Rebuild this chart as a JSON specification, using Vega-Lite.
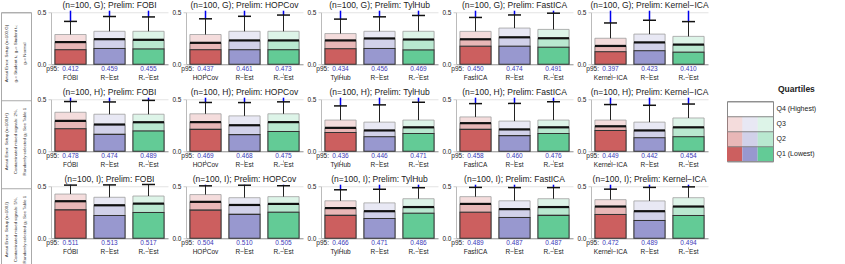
{
  "$schema": "https://vega.github.io/schema/vega-lite/v6.json",
  "padding": 0,
  "config": {"font": "Liberation Sans", "view": {"stroke": null}},
  "hconcat": [
    {
      "spacing": 4,
      "hconcat": [
        {
          "width": 30,
          "height": 264,
          "data": {"values": [
            {"s": "G", "lab": "Amari Error: Setup (n=100,G)\ng₁= Student t₁; g₂= Student t₂;\ng₃= Normal"},
            {"s": "H", "lab": "Amari Error: Setup (n=100,H)\nContaminated mixed signals: 2%,\nRandomly selected gⱼ: See Table 1"},
            {"s": "I", "lab": "Amari Error: Setup (n=100,I)\nContaminated mixed signals: 5%,\nRandomly selected gⱼ: See Table 1"}
          ]},
          "mark": {"type": "text", "angle": 270, "lineBreak": "\n", "fontSize": 4.4, "lineHeight": 9.3, "dy": -9.3, "color": "#333", "align": "center", "baseline": "middle"},
          "encoding": {
            "y": {"field": "s", "type": "nominal", "bandPosition": 0.47, "scale": {"paddingInner": 0, "paddingOuter": 0},
                  "axis": {"title": null, "labels": false, "ticks": false, "domain": false, "grid": true, "tickBand": "extent", "gridColor": "#aaa"}},
            "text": {"field": "lab"}
          },
          "view": {"stroke": "#aaa"}
        },
        {
          "data": {"values": [
            {"t":"(n=100, G);  Prelim: FOBI","pi":0,"m":"FOBI","k":0,"q1":0.140,"md":0.213,"q3":0.286,"p95":0.412,"mx":0.515},
            {"t":"(n=100, G);  Prelim: FOBI","pi":0,"m":"R−Est","k":1,"q1":0.152,"md":0.241,"q3":0.317,"p95":0.459,"mx":0.515},
            {"t":"(n=100, G);  Prelim: FOBI","pi":0,"m":"R₊−Est","k":2,"q1":0.146,"md":0.235,"q3":0.317,"p95":0.455,"mx":0.515},
            {"t":"(n=100, G);  Prelim: HOPCov","pi":1,"m":"HOPCov","k":0,"q1":0.140,"md":0.206,"q3":0.286,"p95":0.437,"mx":0.515},
            {"t":"(n=100, G);  Prelim: HOPCov","pi":1,"m":"R−Est","k":1,"q1":0.140,"md":0.229,"q3":0.317,"p95":0.461,"mx":0.515},
            {"t":"(n=100, G);  Prelim: HOPCov","pi":1,"m":"R₊−Est","k":2,"q1":0.140,"md":0.229,"q3":0.317,"p95":0.473,"mx":0.515},
            {"t":"(n=100, G);  Prelim: TylHub","pi":2,"m":"TylHub","k":0,"q1":0.149,"md":0.229,"q3":0.295,"p95":0.434,"mx":0.515},
            {"t":"(n=100, G);  Prelim: TylHub","pi":2,"m":"R−Est","k":1,"q1":0.152,"md":0.248,"q3":0.317,"p95":0.456,"mx":0.515},
            {"t":"(n=100, G);  Prelim: TylHub","pi":2,"m":"R₊−Est","k":2,"q1":0.137,"md":0.238,"q3":0.317,"p95":0.469,"mx":0.515},
            {"t":"(n=100, G);  Prelim: FastICA","pi":3,"m":"FastICA","k":0,"q1":0.173,"md":0.240,"q3":0.316,"p95":0.450,"mx":0.515},
            {"t":"(n=100, G);  Prelim: FastICA","pi":3,"m":"R−Est","k":1,"q1":0.173,"md":0.259,"q3":0.348,"p95":0.474,"mx":0.515},
            {"t":"(n=100, G);  Prelim: FastICA","pi":3,"m":"R₊−Est","k":2,"q1":0.163,"md":0.250,"q3":0.335,"p95":0.491,"mx":0.515},
            {"t":"(n=100, G);  Prelim: Kernel−ICA","pi":4,"m":"Kernel−ICA","k":0,"q1":0.120,"md":0.176,"q3":0.250,"p95":0.397,"mx":0.515},
            {"t":"(n=100, G);  Prelim: Kernel−ICA","pi":4,"m":"R−Est","k":1,"q1":0.130,"md":0.210,"q3":0.290,"p95":0.423,"mx":0.515},
            {"t":"(n=100, G);  Prelim: Kernel−ICA","pi":4,"m":"R₊−Est","k":2,"q1":0.116,"md":0.189,"q3":0.268,"p95":0.410,"mx":0.515},
            {"t":"(n=100, H);  Prelim: FOBI","pi":5,"m":"FOBI","k":0,"q1":0.216,"md":0.292,"q3":0.375,"p95":0.478,"mx":0.515},
            {"t":"(n=100, H);  Prelim: FOBI","pi":5,"m":"R−Est","k":1,"q1":0.162,"md":0.257,"q3":0.356,"p95":0.474,"mx":0.515},
            {"t":"(n=100, H);  Prelim: FOBI","pi":5,"m":"R₊−Est","k":2,"q1":0.194,"md":0.279,"q3":0.356,"p95":0.489,"mx":0.515},
            {"t":"(n=100, H);  Prelim: HOPCov","pi":6,"m":"HOPCov","k":0,"q1":0.210,"md":0.280,"q3":0.360,"p95":0.469,"mx":0.515},
            {"t":"(n=100, H);  Prelim: HOPCov","pi":6,"m":"R−Est","k":1,"q1":0.160,"md":0.250,"q3":0.340,"p95":0.468,"mx":0.515},
            {"t":"(n=100, H);  Prelim: HOPCov","pi":6,"m":"R₊−Est","k":2,"q1":0.190,"md":0.280,"q3":0.360,"p95":0.475,"mx":0.515},
            {"t":"(n=100, H);  Prelim: TylHub","pi":7,"m":"TylHub","k":0,"q1":0.180,"md":0.225,"q3":0.300,"p95":0.436,"mx":0.515},
            {"t":"(n=100, H);  Prelim: TylHub","pi":7,"m":"R−Est","k":1,"q1":0.140,"md":0.200,"q3":0.280,"p95":0.446,"mx":0.515},
            {"t":"(n=100, H);  Prelim: TylHub","pi":7,"m":"R₊−Est","k":2,"q1":0.170,"md":0.230,"q3":0.300,"p95":0.471,"mx":0.515},
            {"t":"(n=100, H);  Prelim: FastICA","pi":8,"m":"FastICA","k":0,"q1":0.210,"md":0.270,"q3":0.330,"p95":0.458,"mx":0.515},
            {"t":"(n=100, H);  Prelim: FastICA","pi":8,"m":"R−Est","k":1,"q1":0.150,"md":0.210,"q3":0.290,"p95":0.460,"mx":0.515},
            {"t":"(n=100, H);  Prelim: FastICA","pi":8,"m":"R₊−Est","k":2,"q1":0.170,"md":0.230,"q3":0.300,"p95":0.476,"mx":0.515},
            {"t":"(n=100, H);  Prelim: Kernel−ICA","pi":9,"m":"Kernel−ICA","k":0,"q1":0.200,"md":0.240,"q3":0.300,"p95":0.449,"mx":0.515},
            {"t":"(n=100, H);  Prelim: Kernel−ICA","pi":9,"m":"R−Est","k":1,"q1":0.130,"md":0.200,"q3":0.280,"p95":0.442,"mx":0.515},
            {"t":"(n=100, H);  Prelim: Kernel−ICA","pi":9,"m":"R₊−Est","k":2,"q1":0.140,"md":0.230,"q3":0.320,"p95":0.454,"mx":0.515},
            {"t":"(n=100, I);  Prelim: FOBI","pi":10,"m":"FOBI","k":0,"q1":0.273,"md":0.356,"q3":0.425,"p95":0.511,"mx":0.515},
            {"t":"(n=100, I);  Prelim: FOBI","pi":10,"m":"R−Est","k":1,"q1":0.219,"md":0.317,"q3":0.394,"p95":0.513,"mx":0.515},
            {"t":"(n=100, I);  Prelim: FOBI","pi":10,"m":"R₊−Est","k":2,"q1":0.248,"md":0.333,"q3":0.406,"p95":0.517,"mx":0.517},
            {"t":"(n=100, I);  Prelim: HOPCov","pi":11,"m":"HOPCov","k":0,"q1":0.270,"md":0.350,"q3":0.420,"p95":0.504,"mx":0.515},
            {"t":"(n=100, I);  Prelim: HOPCov","pi":11,"m":"R−Est","k":1,"q1":0.230,"md":0.320,"q3":0.390,"p95":0.510,"mx":0.515},
            {"t":"(n=100, I);  Prelim: HOPCov","pi":11,"m":"R₊−Est","k":2,"q1":0.250,"md":0.330,"q3":0.400,"p95":0.505,"mx":0.515},
            {"t":"(n=100, I);  Prelim: TylHub","pi":12,"m":"TylHub","k":0,"q1":0.220,"md":0.290,"q3":0.360,"p95":0.466,"mx":0.515},
            {"t":"(n=100, I);  Prelim: TylHub","pi":12,"m":"R−Est","k":1,"q1":0.190,"md":0.260,"q3":0.340,"p95":0.471,"mx":0.515},
            {"t":"(n=100, I);  Prelim: TylHub","pi":12,"m":"R₊−Est","k":2,"q1":0.240,"md":0.300,"q3":0.380,"p95":0.486,"mx":0.515},
            {"t":"(n=100, I);  Prelim: FastICA","pi":13,"m":"FastICA","k":0,"q1":0.250,"md":0.330,"q3":0.400,"p95":0.489,"mx":0.515},
            {"t":"(n=100, I);  Prelim: FastICA","pi":13,"m":"R−Est","k":1,"q1":0.200,"md":0.280,"q3":0.360,"p95":0.487,"mx":0.515},
            {"t":"(n=100, I);  Prelim: FastICA","pi":13,"m":"R₊−Est","k":2,"q1":0.220,"md":0.300,"q3":0.380,"p95":0.487,"mx":0.515},
            {"t":"(n=100, I);  Prelim: Kernel−ICA","pi":14,"m":"Kernel−ICA","k":0,"q1":0.229,"md":0.305,"q3":0.371,"p95":0.472,"mx":0.515},
            {"t":"(n=100, I);  Prelim: Kernel−ICA","pi":14,"m":"R−Est","k":1,"q1":0.171,"md":0.260,"q3":0.359,"p95":0.489,"mx":0.515},
            {"t":"(n=100, I);  Prelim: Kernel−ICA","pi":14,"m":"R₊−Est","k":2,"q1":0.219,"md":0.305,"q3":0.390,"p95":0.494,"mx":0.515}
          ]},
          "facet": {"field": "t", "type": "nominal", "sort": {"field": "pi", "op": "min"},
                    "header": {"title": null, "labelFontSize": 8.5, "labelPadding": 0, "labelColor": "#222", "labelFont": "Liberation Sans"}},
          "columns": 5,
          "spacing": {"row": 6, "column": 3},
          "resolve": {"scale": {"x": "independent"}, "axis": {"x": "independent", "y": "independent"}},
          "spec": {
            "width": 117,
            "height": 52,
            "encoding": {
              "x": {"field": "m", "type": "nominal", "sort": {"field": "k", "op": "min"},
                    "scale": {"paddingInner": 0.2, "paddingOuter": 0.1},
                    "axis": {"title": null, "labelAngle": 0, "labelFontSize": 6.5, "labelPadding": 10, "ticks": false, "domainColor": "#999", "labelColor": "#222"}}
            },
            "layer": [
              {
                "mark": {"type": "bar", "fillOpacity": 0.22, "stroke": "#a0a0a0", "strokeWidth": 0.8},
                "encoding": {
                  "y": {"field": "md", "type": "quantitative", "title": null, "scale": {"domain": [0, 0.5], "nice": false},
                        "axis": {"values": [0, 0.1, 0.2, 0.3, 0.4, 0.5], "format": ".1f", "labelFontSize": 6.5, "labelPadding": 2, "tickSize": 3, "tickColor": "#ccc", "domainColor": "#bbb", "gridColor": "#e3e3e3", "labelColor": "#222"}},
                  "y2": {"field": "q3"},
                  "color": {"field": "k", "type": "nominal", "scale": {"domain": [0, 1, 2], "range": ["#cc5f5f", "#9898cf", "#63cb96"]}, "legend": null}
                }
              },
              {
                "mark": {"type": "bar", "fillOpacity": 0.45, "stroke": "#555", "strokeWidth": 0.8},
                "encoding": {
                  "y": {"field": "q1", "type": "quantitative", "title": null},
                  "y2": {"field": "md"},
                  "color": {"field": "k", "type": "nominal", "legend": null}
                }
              },
              {
                "mark": {"type": "bar", "fillOpacity": 1, "stroke": "#333", "strokeWidth": 1.1},
                "encoding": {
                  "y": {"field": "q1", "type": "quantitative", "title": null},
                  "color": {"field": "k", "type": "nominal", "legend": null}
                }
              },
              {
                "mark": {"type": "tick", "color": "#111", "thickness": 2.2, "size": 31, "opacity": 1},
                "encoding": {"y": {"field": "md", "type": "quantitative", "title": null}}
              },
              {
                "mark": {"type": "rule", "color": "#222", "strokeWidth": 1},
                "encoding": {"y": {"field": "q3", "type": "quantitative", "title": null}, "y2": {"field": "p95"}}
              },
              {
                "mark": {"type": "rule", "color": "#0000ee", "strokeWidth": 1.5},
                "encoding": {"y": {"field": "p95", "type": "quantitative", "title": null}, "y2": {"field": "mx"}}
              },
              {
                "mark": {"type": "tick", "color": "#111", "thickness": 1.5, "size": 13, "opacity": 1},
                "encoding": {"y": {"field": "p95", "type": "quantitative", "title": null}}
              },
              {
                "mark": {"type": "rule", "color": "#999", "strokeWidth": 0.8},
                "encoding": {"y": {"datum": -0.088, "type": "quantitative"}, "y2": {"datum": -0.108}}
              },
              {
                "mark": {"type": "text", "fontSize": 6.5, "color": "#3a3ab8", "baseline": "middle"},
                "encoding": {
                  "y": {"datum": -0.05, "type": "quantitative"},
                  "text": {"field": "p95", "type": "quantitative", "format": ".3f"}
                }
              },
              {
                "transform": [{"filter": "datum.k == 0"}],
                "mark": {"type": "text", "fontSize": 6.5, "color": "#222", "baseline": "middle", "align": "right", "dx": -11.5, "text": "p95:"},
                "encoding": {"y": {"datum": -0.05, "type": "quantitative"}}
              }
            ]
          }
        }
      ]
    },
    {
      "width": 46,
      "height": 60,
      "title": {"text": "Quartiles", "anchor": "start", "dx": 51, "fontSize": 8.5, "fontWeight": "bold", "offset": 4, "color": "#222"},
      "data": {"values": [
        {"k": 0, "q": "Q4 (Highest)"}, {"k": 1, "q": "Q4 (Highest)"}, {"k": 2, "q": "Q4 (Highest)"},
        {"k": 0, "q": "Q3"}, {"k": 1, "q": "Q3"}, {"k": 2, "q": "Q3"},
        {"k": 0, "q": "Q2"}, {"k": 1, "q": "Q2"}, {"k": 2, "q": "Q2"},
        {"k": 0, "q": "Q1 (Lowest)"}, {"k": 1, "q": "Q1 (Lowest)"}, {"k": 2, "q": "Q1 (Lowest)"}
      ]},
      "mark": {"type": "rect"},
      "encoding": {
        "x": {"field": "k", "type": "nominal", "scale": {"paddingInner": 0, "paddingOuter": 0},
              "axis": {"labels": false, "ticks": false, "domain": false, "title": " ", "titleFontSize": 6, "titlePadding": 20}},
        "y": {"field": "q", "type": "nominal", "sort": ["Q4 (Highest)", "Q3", "Q2", "Q1 (Lowest)"],
              "scale": {"paddingInner": 0, "paddingOuter": 0},
              "axis": {"orient": "right", "title": null, "ticks": false, "domain": false, "labelFontSize": 7, "labelPadding": 3, "grid": true, "tickBand": "extent", "gridColor": "#888", "zindex": 1, "labelColor": "#222"}},
        "color": {"field": "k", "type": "nominal", "scale": {"domain": [0, 1, 2], "range": ["#cc5f5f", "#9898cf", "#63cb96"]}, "legend": null},
        "fillOpacity": {"field": "q", "type": "ordinal", "scale": {"type": "ordinal", "domain": ["Q4 (Highest)", "Q3", "Q2", "Q1 (Lowest)"], "range": [0, 0.22, 0.45, 1]}, "legend": null}
      },
      "view": {"stroke": "#888"}
    }
  ],
  "spacing": 16,
  "center": true
}
